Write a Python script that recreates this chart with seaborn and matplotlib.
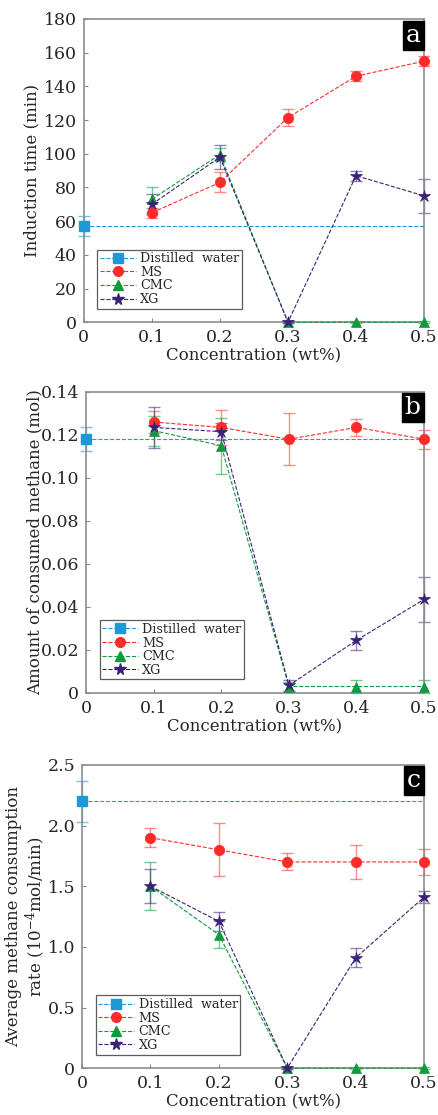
import numpy as np
import pandas as pd
import seaborn as sns
from matplotlib import pyplot as plt

# concentrations (wt%)
conc = [0.1, 0.2, 0.3, 0.4, 0.5]
water_x = [0.0]

# (a) induction time (min)
water_a, water_a_err = [57], [6]
ms_a, ms_a_err = [65, 83, 121.5, 146, 155], [3, 6, 5, 3, 3]
cmc_a, cmc_a_err = [73, 99.5, 0, 0, 0], [7.5, 4, 0.5, 0.5, 0.5]
xg_a, xg_a_err = [70, 98, 0, 87, 75], [6, 7, 0.5, 3, 10]

# (b) amount of consumed methane (mol)
water_b, water_b_err = [0.118], [0.0055]
ms_b, ms_b_err = [0.126, 0.1235, 0.118, 0.1235, 0.118], [0.005, 0.008, 0.012, 0.004, 0.0045]
cmc_b, cmc_b_err = [0.122, 0.115, 0.003, 0.003, 0.003], [0.007, 0.013, 0.002, 0.003, 0.003]
xg_b, xg_b_err = [0.1235, 0.1215, 0.0035, 0.0245, 0.0435], [0.0095, 0.004, 0.0025, 0.0045, 0.0105]

# (c) average methane consumption rate (1e-4 mol/min)
water_c, water_c_err = [2.2], [0.17]
ms_c, ms_c_err = [1.9, 1.8, 1.7, 1.7, 1.7], [0.08, 0.22, 0.07, 0.14, 0.11]
cmc_c, cmc_c_err = [1.5, 1.1, 0, 0, 0], [0.2, 0.11, 0.01, 0.01, 0.01]
xg_c, xg_c_err = [1.5, 1.21, 0, 0.91, 1.41], [0.14, 0.08, 0.01, 0.08, 0.05]

x_ticks = [0, 0.1, 0.2, 0.3, 0.4, 0.5]
x_ticklabels = ['0', '0.1', '0.2', '0.3', '0.4', '0.5']

sns.set_theme(style='white')
plt.rcParams['font.family'] = ['DejaVu Serif']
plt.rcParams['mathtext.fontset'] = 'dejavuserif'

C_WATER = '#1d9ad6'
C_MS = '#ff2b2b'
C_CMC = '#109a3c'
C_XG = '#3b2177'

fig = plt.figure(figsize=(4.39, 11.15), dpi=100)
positions = [[0.191, 0.711, 0.775, 0.272],
             [0.196, 0.3785, 0.770, 0.270],
             [0.187, 0.042, 0.779, 0.272]]
label_x = [-0.127, -0.127, -0.102]

panels = [
    ('a', (water_a, water_a_err), (ms_a, ms_a_err), (cmc_a, cmc_a_err), (xg_a, xg_a_err),
     (0, 180), np.arange(0, 181, 20), [str(v) for v in range(0, 181, 20)],
     'Induction time (min)'),
    ('b', (water_b, water_b_err), (ms_b, ms_b_err), (cmc_b, cmc_b_err), (xg_b, xg_b_err),
     (0, 0.14), np.arange(0, 0.141, 0.02), ['0', '0.02', '0.04', '0.06', '0.08', '0.10', '0.12', '0.14'],
     'Amount of consumed methane (mol)'),
    ('c', (water_c, water_c_err), (ms_c, ms_c_err), (cmc_c, cmc_c_err), (xg_c, xg_c_err),
     (0, 2.5), np.arange(0, 2.51, 0.5), ['0', '0.5', '1.0', '1.5', '2.0', '2.5'],
     'Average methane consumption\nrate (10$^{-4}$mol/min)'),
]

for pos, lx, (tag, water, ms, cmc, xg, ylim, yt, ytl, ylabel) in zip(positions, label_x, panels):
    ax = fig.add_axes(pos)

    # error bars first (lighter)
    ax.errorbar(water_x, water[0], yerr=water[1], fmt='none', ecolor=C_WATER, alpha=0.6,
                elinewidth=1, capsize=4, clip_on=False, zorder=2)
    for (vals, err), col in [(ms, C_MS), (cmc, C_CMC), (xg, C_XG)]:
        ax.errorbar(conc, vals, yerr=err, fmt='none', ecolor=col, alpha=0.55,
                    elinewidth=1, capsize=4, clip_on=False, zorder=2)

    # distilled water reference line across the whole range
    ax.plot([water_x[0], conc[-1]], [water[0][0]] * 2, ls='--', lw=0.8, color=C_WATER, zorder=3)
    ax.plot(water_x, water[0], marker='s', ms=7, ls='none', color=C_WATER, clip_on=False, zorder=5)

    series = [(ms[0], C_MS, 'o', 7.5), (cmc[0], C_CMC, '^', 7.5), (xg[0], C_XG, '*', 9)]
    for vals, col, mk, size in series:
        sns.lineplot(x=conc, y=vals, ax=ax, color=col, lw=0.8, linestyle='--',
                     marker=mk, markersize=size, markeredgecolor=col, markeredgewidth=0.5,
                     clip_on=False, zorder=4, legend=False)

    # legend handles
    handles = [
        plt.Line2D([], [], color=C_WATER, ls='--', lw=0.8, marker='s', ms=6.5),
        plt.Line2D([], [], color=C_MS, ls='--', lw=0.8, marker='o', ms=7),
        plt.Line2D([], [], color=C_CMC, ls='--', lw=0.8, marker='^', ms=7),
        plt.Line2D([], [], color=C_XG, ls='--', lw=0.8, marker='*', ms=8.5),
    ]
    leg = ax.legend(handles, ['Distilled  water', 'MS', 'CMC', 'XG'], loc='lower left',
                    bbox_to_anchor=(0.04, 0.045), fontsize=9.2, frameon=True, fancybox=False,
                    handlelength=2.8, handletextpad=0.35, labelspacing=0.05,
                    borderpad=0.2, borderaxespad=0)
    leg.get_frame().set_edgecolor('#333333')
    leg.get_frame().set_linewidth(0.9)

    ax.set_xlim(0, 0.5)
    ax.set_ylim(*ylim)
    ax.set_xticks(x_ticks)
    ax.set_xticklabels(x_ticklabels)
    ax.set_yticks(yt)
    ax.set_yticklabels(ytl)
    ax.tick_params(direction='in', length=3, width=0.8, color='#888888', labelsize=12.5,
                   pad=5, bottom=True, left=True)
    ax.set_xlabel('Concentration (wt%)', fontsize=12, labelpad=1)
    ax.set_ylabel(ylabel, fontsize=12, linespacing=1.1)
    ax.yaxis.set_label_coords(lx, 0.5)
    for sp in ax.spines.values():
        sp.set_color('#8c8c8c')
        sp.set_linewidth(1.2)

    ax.text(0.99, 0.985, tag, transform=ax.transAxes, ha='right', va='top',
            fontsize=18, color='white',
            bbox=dict(boxstyle='square,pad=0.12', fc='black', ec='black'))

fig.savefig('out.png', dpi=100)
